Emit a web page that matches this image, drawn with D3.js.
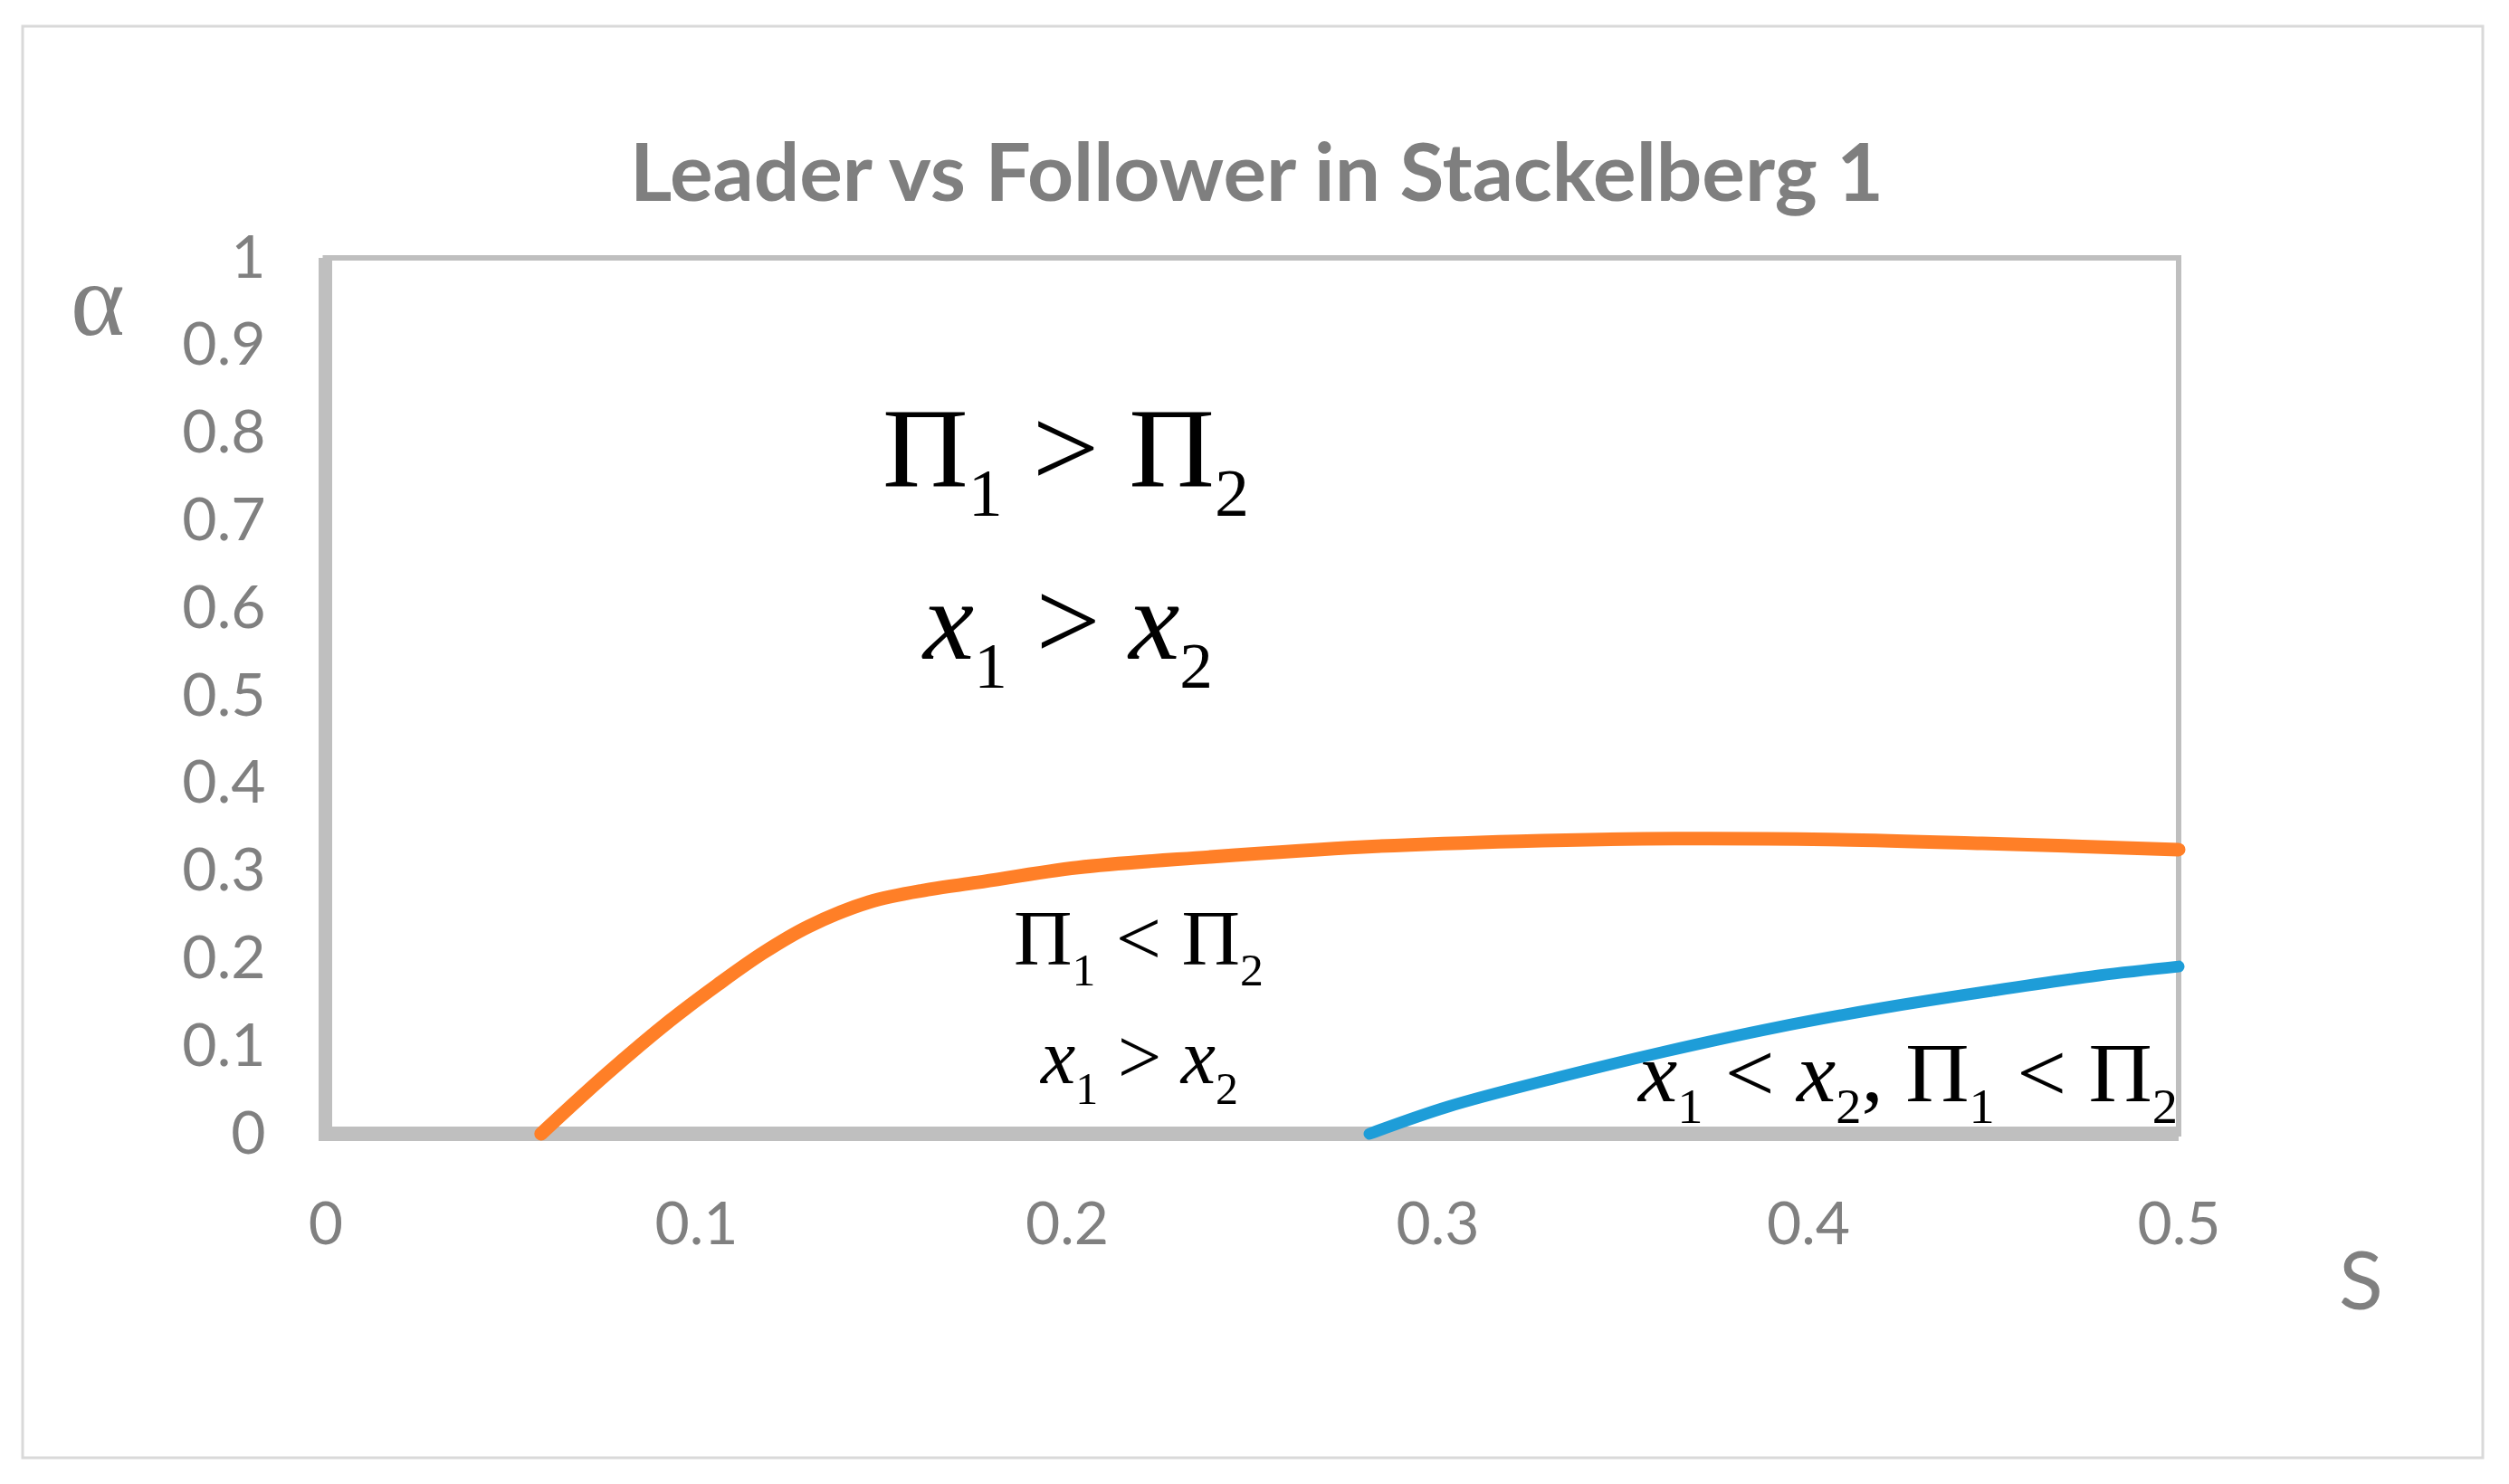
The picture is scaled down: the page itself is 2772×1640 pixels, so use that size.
<!DOCTYPE html>
<html>
<head>
<meta charset="utf-8">
<script src="https://cdn.jsdelivr.net/npm/d3@7"></script>
<style>
  html, body { margin: 0; padding: 0; background: #fff; }
  svg { display: block; }
</style>
</head>
<body>
<svg class="chart"></svg>
<script>
// series
var orangeS = [0.0582, 0.0758, 0.0929, 0.1059, 0.1181, 0.1303, 0.1466, 0.163, 0.176, 0.203, 0.2385, 0.280, 0.322, 0.364, 0.4055, 0.447, 0.5];
var orangeA = [0, 0.068, 0.129, 0.1705, 0.2066, 0.2366, 0.2645, 0.279, 0.287, 0.304, 0.316, 0.3275, 0.334, 0.337, 0.336, 0.3316, 0.3245];
var blueS = [0.2817, 0.3029, 0.3322, 0.3615, 0.391, 0.420, 0.4492, 0.4785, 0.5];
var blueA = [0, 0.031, 0.064, 0.094, 0.121, 0.1436, 0.163, 0.1808, 0.191];

var xTicks = [0, 0.1, 0.2, 0.3, 0.4, 0.5];
var xTickLabels = ["0", "0.1", "0.2", "0.3", "0.4", "0.5"];
var yTicks = [0, 0.1, 0.2, 0.3, 0.4, 0.5, 0.6, 0.7, 0.8, 0.9, 1];
var yTickLabels = ["0", "0.1", "0.2", "0.3", "0.4", "0.5", "0.6", "0.7", "0.8", "0.9", "1"];

var W = 2772, H = 1640;
var gray = "#808080", frame = "#bfbfbf";
var sans = "Lato, 'Open Sans', sans-serif";
var serif = "'Liberation Serif', 'DejaVu Serif', serif";

var svg = d3.select(".chart").attr("width", W).attr("height", H);

var x = d3.scaleLinear().domain([0, 0.5]).range([359.5, 2407]);
var y = d3.scaleLinear().domain([0, 1]).range([1253, 285]);

// outer chart border
svg.append("rect")
    .attr("x", 25).attr("y", 29).attr("width", 2718).attr("height", 1582)
    .attr("fill", "none").attr("stroke", "#d9d9d9").attr("stroke-width", 3);

// title
svg.append("text")
    .attr("x", 696).attr("y", 222)
    .attr("textLength", 1385).attr("lengthAdjust", "spacingAndGlyphs")
    .attr("font-family", sans).attr("font-weight", "bold").attr("font-size", 88)
    .attr("fill", "#7f7f7f")
    .text("Leader vs Follower in Stackelberg 1");

// plot frame
svg.append("rect")
    .attr("x", x(0)).attr("y", y(1))
    .attr("width", x(0.5) - x(0)).attr("height", y(0) - y(1))
    .attr("fill", "none").attr("stroke", frame).attr("stroke-width", 6);
svg.append("line")
    .attr("x1", x(0)).attr("x2", x(0)).attr("y1", y(1)).attr("y2", y(0) + 8)
    .attr("stroke", frame).attr("stroke-width", 15);
svg.append("line")
    .attr("x1", x(0) - 7).attr("x2", x(0.5)).attr("y1", y(0)).attr("y2", y(0))
    .attr("stroke", frame).attr("stroke-width", 16);

// axes (labels only)
var xAxis = svg.append("g")
    .attr("transform", "translate(0," + y(0) + ")")
    .call(d3.axisBottom(x).tickValues(xTicks).tickSize(0).tickPadding(75)
        .tickFormat(function(d, i) { return xTickLabels[i]; }));
var yAxis = svg.append("g")
    .attr("transform", "translate(" + x(0) + ",0)")
    .call(d3.axisLeft(y).tickValues(yTicks).tickSize(0).tickPadding(66)
        .tickFormat(function(d, i) { return yTickLabels[i]; }));
[xAxis, yAxis].forEach(function(g) {
    g.select(".domain").remove();
    g.selectAll("text")
        .attr("font-family", sans).attr("font-size", 66).attr("fill", gray);
});

// axis titles
svg.append("text")
    .attr("x", 78).attr("y", 370)
    .attr("font-family", serif).attr("font-size", 114).attr("fill", gray)
    .text("\u03B1");
svg.append("text")
    .attr("x", 2584).attr("y", 1447)
    .attr("font-family", sans).attr("font-size", 90).attr("fill", gray)
    .text("S");

// curves
var line = d3.line()
    .x(function(d) { return x(d[0]); })
    .y(function(d) { return y(d[1]); })
    .curve(d3.curveCatmullRom.alpha(0.5));

svg.append("path")
    .datum(d3.zip(orangeS, orangeA))
    .attr("d", line)
    .attr("fill", "none").attr("stroke", "#ff7f27").attr("stroke-width", 15)
    .attr("stroke-linecap", "round").attr("stroke-linejoin", "round");

svg.append("path")
    .datum(d3.zip(blueS, blueA))
    .attr("d", line)
    .attr("fill", "none").attr("stroke", "#1e9dd8").attr("stroke-width", 13)
    .attr("stroke-linecap", "round").attr("stroke-linejoin", "round");

// region labels: [text, subscript, italic]
function mathLabel(parts, x0, x1, baseline, size) {
    var t = svg.append("text")
        .attr("font-family", serif).attr("font-size", size).attr("fill", "#000")
        .attr("x", 0).attr("y", 0);
    var off = 0;
    parts.forEach(function(p) {
        var ts = t.append("tspan").text(p[0]);
        var target = p[1] ? size * 0.26 : 0;
        ts.attr("dy", target - off);
        off = target;
        if (p[1]) ts.attr("font-size", size * 0.58);
        if (p[2]) ts.attr("font-style", "italic");
    });
    var b = t.node().getBBox();
    var sx = (x1 - x0) / b.width;
    t.attr("transform", "translate(" + (x0 - b.x * sx) + "," + baseline + ") scale(" + sx + ",1)");
}

var PI = "\u03A0";
mathLabel([[PI], ["1", 1], ["  >  "], [PI], ["2", 1]], 975, 1380, 537, 126);
mathLabel([["x", 0, 1], ["1", 1], ["  >  "], ["x", 0, 1], ["2", 1]], 1018, 1340, 728, 124);
mathLabel([[PI], ["1", 1], [" < "], [PI], ["2", 1]], 1120, 1396, 1066, 87);
mathLabel([["x", 0, 1], ["1", 1], ["  >  "], ["x", 0, 1], ["2", 1]], 1148, 1368, 1197, 87);
mathLabel([["x", 0, 1], ["1", 1], [" < "], ["x", 0, 1], ["2", 1], [", "], [PI], ["1", 1], [" < "], [PI], ["2", 1]],
    1808, 2406, 1217, 94);
</script>
</body>
</html>
